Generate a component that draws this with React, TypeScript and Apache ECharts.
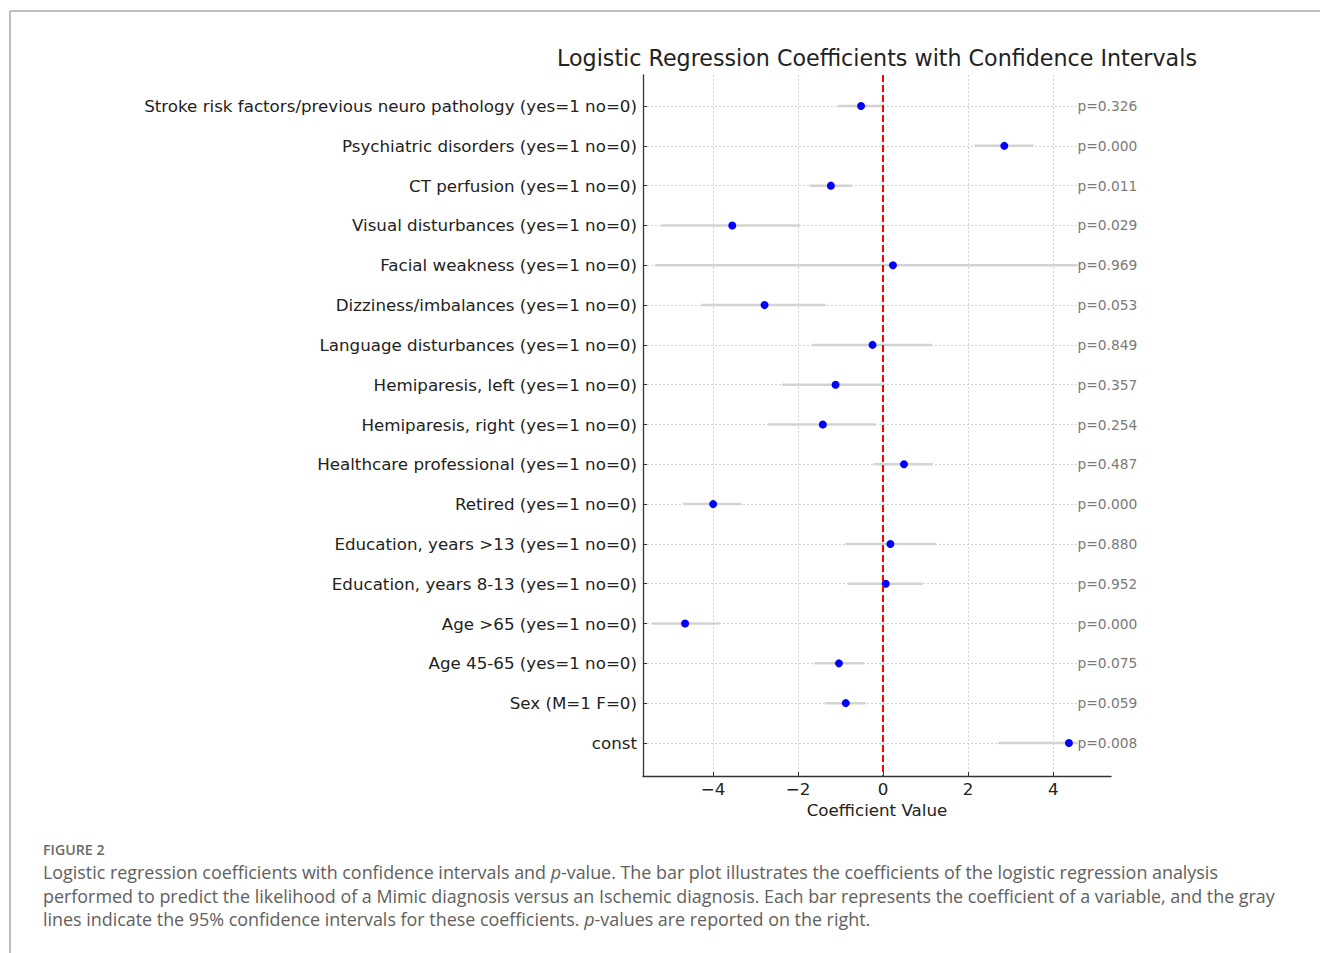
import React, { useEffect, useRef } from "react";
import * as echarts from "echarts";

const variables = [
  "Stroke risk factors/previous neuro pathology (yes=1 no=0)",
  "Psychiatric disorders (yes=1 no=0)",
  "CT perfusion (yes=1 no=0)",
  "Visual disturbances (yes=1 no=0)",
  "Facial weakness (yes=1 no=0)",
  "Dizziness/imbalances (yes=1 no=0)",
  "Language disturbances (yes=1 no=0)",
  "Hemiparesis, left (yes=1 no=0)",
  "Hemiparesis, right (yes=1 no=0)",
  "Healthcare professional (yes=1 no=0)",
  "Retired (yes=1 no=0)",
  "Education, years >13 (yes=1 no=0)",
  "Education, years 8-13 (yes=1 no=0)",
  "Age >65 (yes=1 no=0)",
  "Age 45-65 (yes=1 no=0)",
  "Sex (M=1 F=0)",
  "const",
];
const coefficients = [-0.52, 2.85, -1.23, -3.55, 0.23, -2.79, -0.25, -1.12, -1.42, 0.49, -4.0, 0.17, 0.06, -4.66, -1.04, -0.88, 4.37];
const ciLower = [-1.07, 2.15, -1.73, -5.22, -5.36, -4.28, -1.68, -2.38, -2.71, -0.23, -4.71, -0.89, -0.84, -5.44, -1.62, -1.36, 2.7];
const ciUpper = [0.0, 3.54, -0.73, -1.95, 5.82, -1.35, 1.15, -0.03, -0.18, 1.17, -3.33, 1.25, 0.93, -3.85, -0.44, -0.41, 6.04];
const pValues = ["0.326", "0.000", "0.011", "0.029", "0.969", "0.053", "0.849", "0.357", "0.254", "0.487", "0.000", "0.880", "0.952", "0.000", "0.075", "0.059", "0.008"];
const xTicks = [-4, -2, 0, 2, 4];

const FONT = "'DejaVu Sans', sans-serif";
const CAPFONT = "'Open Sans', Lato, sans-serif";

export default function App() {
  const ref = useRef<HTMLDivElement>(null);
  useEffect(() => {
    document.body.style.margin = "0";
    const chart = echarts.init(ref.current!, null, { renderer: "svg" });
    const rowIdx = variables.map((_, i) => i);
    const textX = Math.max(...coefficients) + 0.2;
    const fmtNum = (v: number) => (v < 0 ? "\u2212" + Math.abs(v) : String(v));
    const capStyle = { fontFamily: CAPFONT, fontSize: 17.9, fill: "#606060" };

    chart.setOption({
      animation: false,
      backgroundColor: "#fff",
      title: {
        text: "Logistic Regression Coefficients with Confidence Intervals",
        left: 872,
        top: 42,
        textAlign: "center",
        textStyle: { fontFamily: FONT, fontSize: 22.2, fontWeight: "normal", color: "#222" },
      },
      grid: { left: 643, right: 209, top: 75, bottom: 177 },
      xAxis: {
        type: "value",
        min: -5.65,
        max: 5.36,
        name: "Coefficient Value",
        nameLocation: "middle",
        nameGap: 24,
        nameTextStyle: { fontFamily: FONT, fontSize: 16.7, color: "#222" },
        axisLine: { show: true, onZero: false, lineStyle: { color: "#333", width: 1.3 } },
        axisTick: { show: true, inside: true, length: 4, customValues: xTicks, lineStyle: { color: "#333" } },
        axisLabel: { customValues: xTicks, formatter: fmtNum, fontFamily: FONT, fontSize: 16.7, color: "#222", margin: 4 },
        splitLine: { show: true, lineStyle: { color: "#c8c8c8", type: [2, 2], width: 0.8 } },
      },
      yAxis: {
        type: "value",
        inverse: true,
        min: -0.78,
        max: 16.83,
        axisLine: { show: true, onZero: false, lineStyle: { color: "#333", width: 1.3 } },
        axisTick: { show: true, inside: true, length: 4, customValues: rowIdx, lineStyle: { color: "#333" } },
        axisLabel: {
          customValues: rowIdx,
          formatter: (v: number) => variables[Math.round(v)] ?? "",
          fontFamily: FONT,
          fontSize: 16.7,
          color: "#222",
          margin: 6,
        },
        splitLine: { show: true, lineStyle: { color: "#c8c8c8", type: [2, 2], width: 0.8 } },
      },
      series: [
        {
          type: "custom",
          clip: true,
          data: rowIdx.map((i) => [ciLower[i], ciUpper[i], i]),
          encode: { x: [0, 1], y: 2 },
          renderItem: (params: any, api: any) => {
            const s = api.coord([api.value(0), api.value(2)]);
            const e = api.coord([api.value(1), api.value(2)]);
            return {
              type: "line",
              shape: { x1: s[0], y1: s[1], x2: e[0], y2: e[1] },
              style: { stroke: "#d3d3d3", lineWidth: 2.5 },
            };
          },
          z: 2,
        },
        {
          type: "scatter",
          data: rowIdx.map((i) => [coefficients[i], i]),
          symbolSize: 8,
          itemStyle: { color: "#0000ff", opacity: 1 },
          z: 4,
          markLine: {
            silent: true,
            symbol: ["none", "none"],
            label: { show: false },
            lineStyle: { color: "#ff0000", type: [7, 3], width: 2 },
            data: [{ xAxis: 0 }],
          },
        },
        {
          type: "scatter",
          data: rowIdx.map((i) => [textX, i, pValues[i]]),
          symbolSize: 0,
          z: 5,
          label: {
            show: true,
            position: [0, 0],
            align: "left",
            verticalAlign: "middle",
            formatter: (p: any) => "p=" + p.value[2],
            fontFamily: FONT,
            fontSize: 13.8,
            color: "#555",
            backgroundColor: "#fff",
            padding: [1, 2, 1, 0],
          },
        },
      ],
      graphic: [
        { type: "line", shape: { x1: 10, y1: 11, x2: 1320, y2: 11 }, style: { stroke: "#aaa", lineWidth: 1.5 } },
        { type: "line", shape: { x1: 10, y1: 11, x2: 10, y2: 953 }, style: { stroke: "#aaa", lineWidth: 1.5 } },
        {
          type: "text",
          x: 43,
          y: 849,
          style: { text: "FIGURE 2", fontFamily: CAPFONT, fontSize: 14.2, fontWeight: 600, fill: "#6a6a6a", verticalAlign: "middle" },
        },
        {
          type: "text",
          x: 43,
          y: 872,
          style: {
            ...capStyle,
            verticalAlign: "middle",
            text: "Logistic regression coefficients with confidence intervals and {i|p}-value. The bar plot illustrates the coefficients of the logistic regression analysis",
            rich: { i: { ...capStyle, fontStyle: "italic" } },
          },
        },
        {
          type: "text",
          x: 43,
          y: 896,
          style: {
            ...capStyle,
            verticalAlign: "middle",
            text: "performed to predict the likelihood of a Mimic diagnosis versus an Ischemic diagnosis. Each bar represents the coefficient of a variable, and the gray",
          },
        },
        {
          type: "text",
          x: 43,
          y: 919,
          style: {
            ...capStyle,
            verticalAlign: "middle",
            text: "lines indicate the 95% confidence intervals for these coefficients. {i|p}-values are reported on the right.",
            rich: { i: { ...capStyle, fontStyle: "italic" } },
          },
        },
      ],
    });
    return () => chart.dispose();
  }, []);
  return <div ref={ref} style={{ width: 1320, height: 953 }} />;
}
